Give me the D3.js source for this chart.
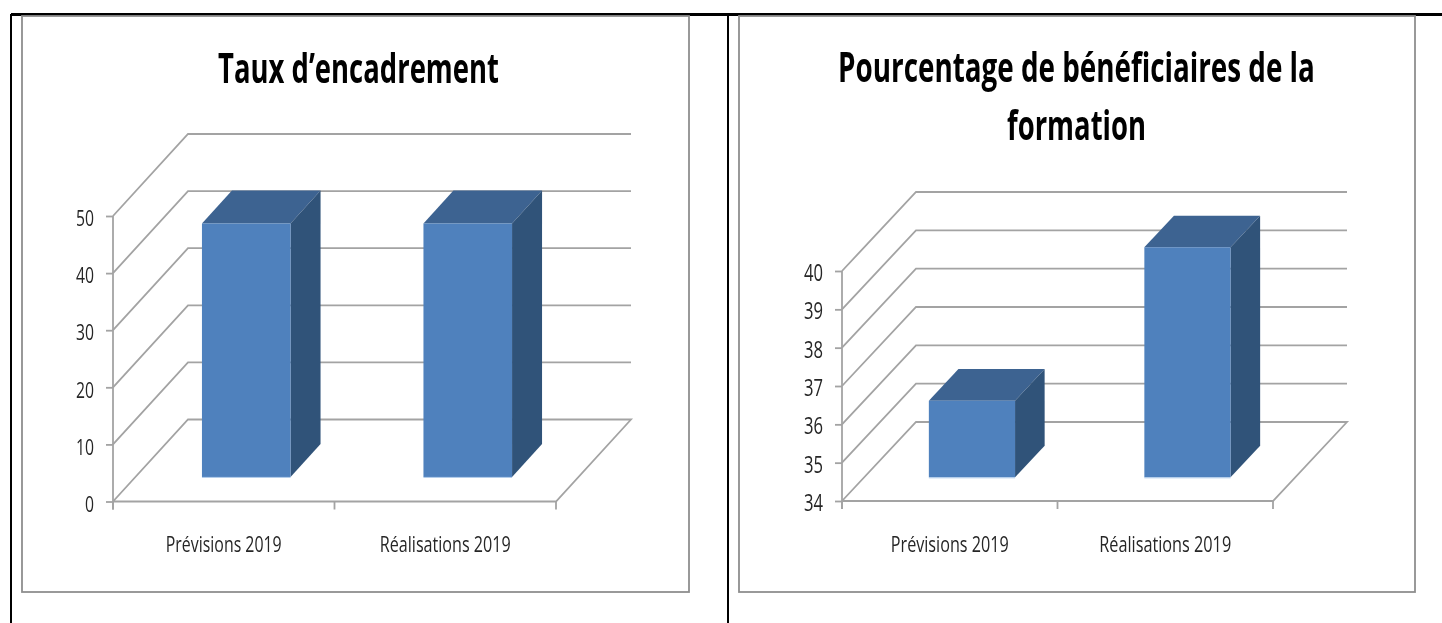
<!DOCTYPE html>
<html>
<head>
<meta charset="utf-8">
<script src="https://cdnjs.cloudflare.com/ajax/libs/d3/7.8.5/d3.min.js"></script>
<style>
  html, body { margin: 0; padding: 0; background: #fff; overflow: hidden; }
  svg { display: block; filter: blur(0.45px); }
  text { font-family: "Open Sans", sans-serif; fill: #262626; }
  .title { font-weight: 700; fill: #000; }
</style>
</head>
<body>
<div id="chart"></div>
<script>
const categories = ["Prévisions 2019", "Réalisations 2019"];

const tauxTitle = ["Taux d’encadrement"];
const tauxValues = [44.4, 44.4];
const tauxTicks = [0, 10, 20, 30, 40, 50];

const formationTitle = ["Pourcentage de bénéficiaires de la", "formation"];
const formationValues = [36, 40];
const formationTicks = [34, 35, 36, 37, 38, 39, 40];

const gridColor = "#a3a3a3";
const frameColor = "#8e8e8e";

const svg = d3.select("#chart").append("svg").attr("width", 1442).attr("height", 623);

// squeeze a text horizontally to the width it has in the picture (no Calibri here)
function fitText(sel, widthOf, shiftY = 0) {
  sel.each(function (d, i) {
    const t = d3.select(this);
    const x = +t.attr("x") || 0;
    const s = widthOf(d, i) / this.getComputedTextLength();
    t.attr("x", 0).attr("transform", `translate(${x},${shiftY}) scale(${s},1)`);
  });
}

// table lines behind the two charts
svg.append("line").attr("x1", 11).attr("x2", 1442).attr("y1", 14.5).attr("y2", 14.5).attr("stroke", "#000").attr("stroke-width", 3);
svg.append("line").attr("x1", 11).attr("x2", 11).attr("y1", 14).attr("y2", 623).attr("stroke", "#000").attr("stroke-width", 2);
svg.append("line").attr("x1", 728).attr("x2", 728).attr("y1", 14).attr("y2", 623).attr("stroke", "#000").attr("stroke-width", 2);

function drawChart(o) {
  svg.append("rect").attr("x", o.frame[0]).attr("y", 16).attr("width", o.frame[1] - o.frame[0]).attr("height", 576)
    .attr("fill", "#fff").attr("stroke", frameColor).attr("stroke-width", 1.8);

  const y = d3.scaleLinear().domain(d3.extent(o.ticks)).range([o.y0, o.y1]);
  const x = d3.scaleBand().domain(categories).range([o.x0, o.x1]).paddingInner(0.6).paddingOuter(0.3);
  const step = x.step();

  // oblique projection, d = 0 front of the floor, d = 1 back wall
  const px = (xv, d) => xv + d * o.dx;
  const py = (yv, d) => yv - d * o.dy;

  const g = svg.append("g");

  // back wall + side wall gridlines
  o.ticks.forEach(t => {
    const points = t === o.ticks[0]
      ? [[o.x0, y(t)], [px(o.x0, 1), py(y(t), 1)], [px(o.x1, 1), py(y(t), 1)], [o.x1, y(t)], [o.x0, y(t)]]
      : [[o.x0, y(t)], [px(o.x0, 1), py(y(t), 1)], [px(o.x1, 1), py(y(t), 1)]];
    g.append("path").attr("d", d3.line()(points)).attr("fill", "none").attr("stroke", gridColor).attr("stroke-width", 1.8);
  });

  // bars
  const d0 = 0.30, d1 = 0.70;
  const poly = pts => d3.line()(pts) + "Z";
  o.values.forEach((v, i) => {
    const l = x(categories[i]), r = l + x.bandwidth();
    const top = y(v), bot = y(o.ticks[0]);
    g.append("path").attr("fill", "#3d6391")
      .attr("d", poly([[px(l, d0), py(top, d0)], [px(r, d0), py(top, d0)], [px(r, d1), py(top, d1)], [px(l, d1), py(top, d1)]]));
    g.append("path").attr("fill", "#305379")
      .attr("d", poly([[px(r, d0), py(top, d0)], [px(r, d1), py(top, d1)], [px(r, d1), py(bot, d1)], [px(r, d0), py(bot, d0)]]));
    g.append("path").attr("fill", "#4f81bd")
      .attr("d", poly([[px(l, d0), py(top, d0)], [px(r, d0), py(top, d0)], [px(r, d0), py(bot, d0)], [px(l, d0), py(bot, d0)]]));
    g.append("line").attr("x1", px(l, d0)).attr("x2", px(r, d0)).attr("y1", py(bot, d0) + 0.5).attr("y2", py(bot, d0) + 0.5)
      .attr("stroke", "#a9c6e8").attr("stroke-width", 1);
  });

  // axes
  const yAxis = g.append("g").attr("transform", `translate(${o.x0},0)`)
    .call(d3.axisLeft(y).tickValues(o.ticks).tickFormat(d3.format("d")).tickSize(7).tickPadding(12).tickSizeOuter(0));
  yAxis.selectAll("text").style("font-size", o.tickFont + "px");
  fitText(yAxis.selectAll("text"), d => String(d).length * o.tickWidth / 2, o.tickShift);

  const xAxis = g.append("g").attr("transform", `translate(0,${o.y0})`)
    .call(d3.axisBottom(x).tickSize(0).tickPadding(36).tickSizeOuter(0));
  xAxis.selectAll("text").style("font-size", "21px");
  fitText(xAxis.selectAll("text"), (d, i) => o.labelWidths[i]);

  [yAxis, xAxis].forEach(a => {
    a.select(".domain").remove();
    a.selectAll("line").attr("stroke", gridColor).attr("stroke-width", 1.8);
  });
  g.append("line").attr("x1", o.x0).attr("x2", o.x0).attr("y1", y.range()[1]).attr("y2", o.y0 + 8)
    .attr("stroke", gridColor).attr("stroke-width", 1.8);
  d3.range(0, categories.length + 1).forEach(i => {
    const tx = o.x0 + i * step;
    g.append("line").attr("x1", tx).attr("x2", tx).attr("y1", o.y0).attr("y2", o.y0 + 8)
      .attr("stroke", gridColor).attr("stroke-width", 1.8);
  });

  // title
  const titles = svg.append("g").attr("transform", `translate(${o.titleX},${o.titleY})`)
    .selectAll("text").data(o.title).enter().append("text").attr("class", "title")
    .attr("y", (d, i) => i * 58).attr("text-anchor", "middle").style("font-size", "42px").text(d => d);
  fitText(titles, (d, i) => o.titleWidths[i]);
}

drawChart({
  title: tauxTitle, values: tauxValues, ticks: tauxTicks,
  frame: [22, 689], x0: 113, x1: 556, y0: 501.5, y1: 216, dx: 75, dy: 82,
  titleX: 358.5, titleY: 83, titleWidths: [281],
  tickFont: 21, tickWidth: 18, tickShift: 3, labelWidths: [116, 131]
});

drawChart({
  title: formationTitle, values: formationValues, ticks: formationTicks,
  frame: [739, 1415], x0: 842, x1: 1273, y0: 501, y1: 271, dx: 74, dy: 79,
  titleX: 1076.5, titleY: 82, titleWidths: [477, 139],
  tickFont: 23, tickWidth: 19, tickShift: 2, labelWidths: [118, 132]
});
</script>
</body>
</html>
